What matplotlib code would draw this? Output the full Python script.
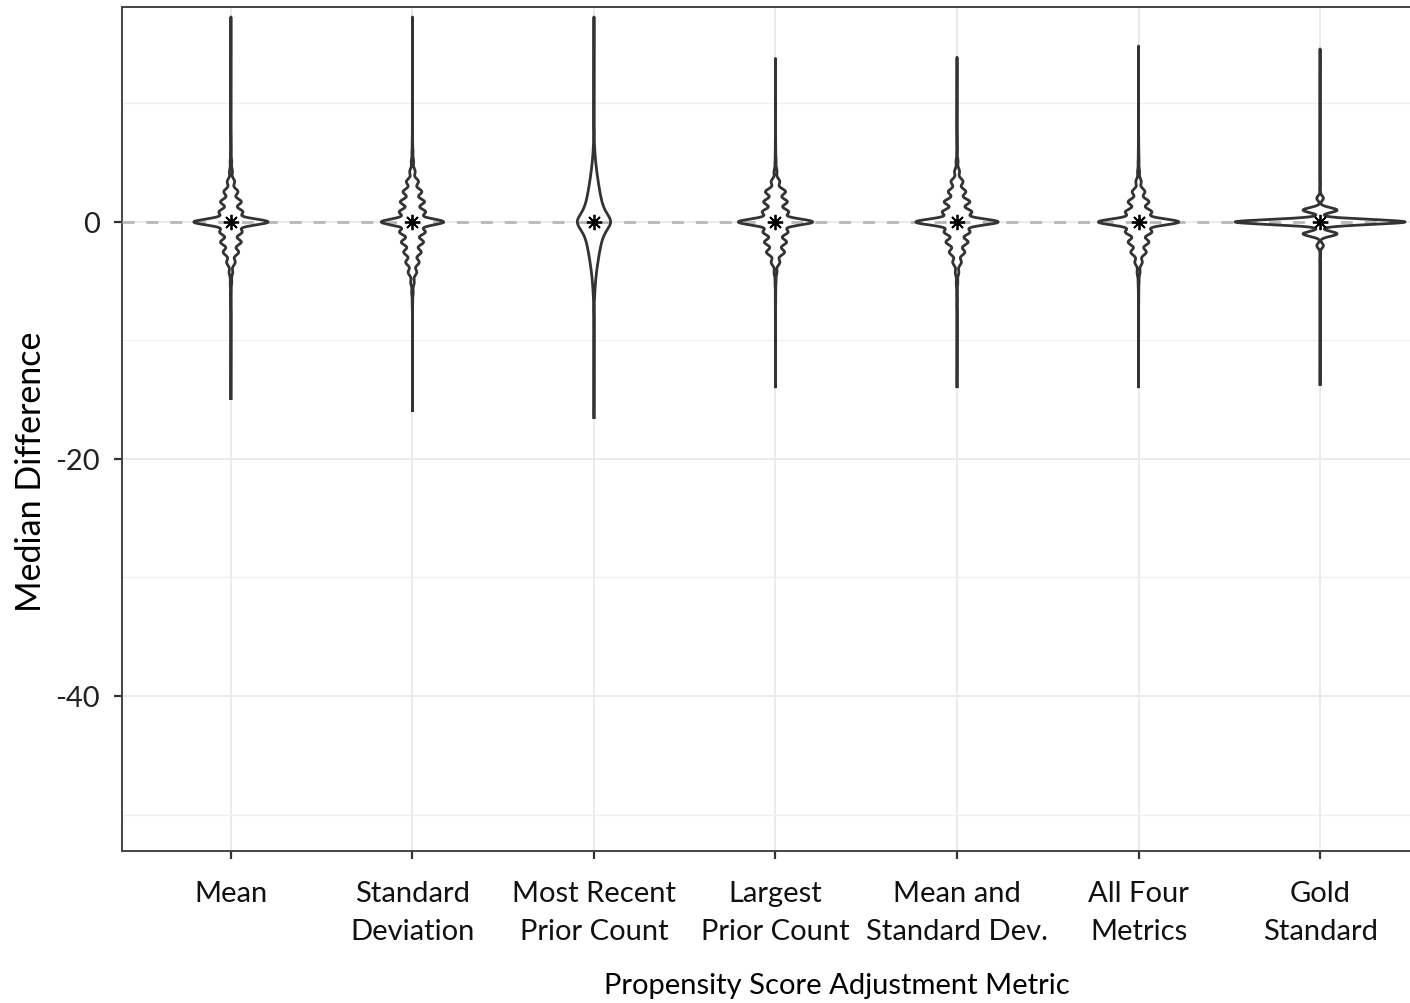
import numpy as np
import matplotlib.pyplot as plt
from matplotlib.ticker import FixedLocator

plt.rcParams['font.family'] = ['Lato', 'DejaVu Sans']

# categories (x axis)
categories = ["Mean", "Standard\nDeviation", "Most Recent\nPrior Count",
              "Largest\nPrior Count", "Mean and\nStandard Dev.", "All Four\nMetrics",
              "Gold\nStandard"]

# median difference levels where the densities have their bumps
levels = [-6.8, -5.95, -5.1, -4.25, -3.4, -2.55, -1.7, -0.85, 0.0,
          0.85, 1.7, 2.55, 3.4, 4.25, 5.1, 5.95, 6.8]
gold_levels = [-3, -2, -1, 0, 1, 2, 3]

# relative counts at each level
mean_counts = [0.2, 0.4, 0.8, 1.8, 4.3, 7.7, 10.3, 11.0, 37.0,
               11.7, 10.3, 7.0, 3.7, 1.5, 0.8, 0.4, 0.2]
sd_counts = [0.3, 0.8, 1.8, 4.3, 6.7, 8.7, 11.0, 12.7, 31.0,
             13.0, 12.0, 9.3, 6.0, 2.7, 1.2, 0.6, 0.3]
recent_counts = [0.2, 0.5, 0.9, 1.5, 2.4, 3.4, 4.6, 6.6, 12.5,
                 6.8, 4.8, 3.6, 2.6, 1.7, 1.0, 0.5, 0.2]
largest_counts = [0.2, 0.3, 0.6, 1.5, 4.3, 9.0, 11.0, 12.3, 37.0,
                  13.0, 11.7, 10.0, 4.3, 1.5, 0.6, 0.3, 0.2]
meansd_counts = [0.2, 0.3, 0.8, 1.8, 4.3, 7.7, 11.0, 12.7, 41.0,
                 14.5, 12.7, 8.7, 6.0, 2.5, 1.0, 0.4, 0.2]
allfour_counts = [0.2, 0.3, 0.6, 1.5, 3.7, 7.7, 10.3, 13.0, 40.0,
                  13.0, 10.3, 6.3, 2.7, 1.0, 0.5, 0.3, 0.2]
gold_counts = [0.3, 3.3, 17.0, 85.0, 17.0, 3.3, 0.3]

all_levels = [levels] * 6 + [gold_levels]
all_counts = [mean_counts, sd_counts, recent_counts, largest_counts,
              meansd_counts, allfour_counts, gold_counts]
bandwidths = [0.27, 0.27, 0.55, 0.27, 0.27, 0.27, 0.21]

# data range of each group (min, max)
data_min = [-14.9, -15.9, -16.5, -13.9, -13.9, -13.9, -13.7]
data_max = [17.3, 17.3, 17.3, 13.8, 13.9, 14.85, 14.6]
medians = [0, 0, 0, 0, 0, 0, 0]

WIDTH_SCALE = 1 / 181.5   # count units -> x data units
OUTLINE = '#333333'

fig = plt.figure(figsize=(14.10, 10.04), dpi=100)
ax = fig.add_axes([122 / 1410, 152 / 1004, 1307 / 1410, 844 / 1004])

positions = np.arange(1, len(categories) + 1)

for i, pos in enumerate(positions):
    y = np.linspace(data_min[i], data_max[i], 3000)
    dens = np.zeros_like(y)
    for v, c in zip(all_levels[i], all_counts[i]):
        dens += c * np.exp(-0.5 * ((y - v) / bandwidths[i]) ** 2)
    hw = dens * WIDTH_SCALE
    xs = np.concatenate([pos + hw, (pos - hw)[::-1]])
    ys = np.concatenate([y, y[::-1]])
    ax.fill(xs, ys, facecolor='white', edgecolor='none', zorder=2)
    ax.plot(np.append(xs, xs[0]), np.append(ys, ys[0]), color=OUTLINE,
            lw=2.0, solid_joinstyle='round', zorder=4)

ax.axhline(0, color='#b8b8b8', lw=2.0, linestyle=(0, (4.3, 4.3)), zorder=3)
ax.plot(positions, medians, linestyle='none', marker=(8, 2, 0), markersize=11,
        markeredgewidth=1.3, color='black', zorder=5)

ax.set_xlim(0.4, 7.6)
ax.set_ylim(-53.08, 18.14)
ax.set_xticks(positions)
ax.set_xticklabels(categories, fontsize=21, color='#111111', linespacing=1.58)
ax.set_yticks([0, -20, -40])
ax.set_yticklabels(['0', '-20', '-40'], fontsize=21, color='#222222')
ax.yaxis.set_minor_locator(FixedLocator([10, -10, -30, -50]))

ax.grid(True, which='major', color='#ebebeb', lw=1.4, zorder=0)
ax.grid(True, which='minor', axis='y', color='#f0f0f0', lw=1.0, zorder=0)
ax.set_axisbelow(True)
ax.tick_params(axis='both', which='major', length=6, width=1.6, color='#333333')
ax.tick_params(axis='x', which='major', pad=15)
ax.tick_params(axis='y', which='major', pad=10)
ax.tick_params(axis='y', which='minor', length=0)

for side in ax.spines.values():
    side.set_color('#444444')
    side.set_linewidth(1.4)

# axis titles placed where the reference has them
fig.text(837 / 1410, 1 - 986 / 1004, 'Propensity Score Adjustment Metric',
         fontsize=21, ha='center', va='center')
fig.text(31 / 1410, 1 - 472 / 1004, 'Median Difference', fontsize=24.5,
         rotation=90, ha='center', va='center')

fig.savefig('out.png', dpi=100)
